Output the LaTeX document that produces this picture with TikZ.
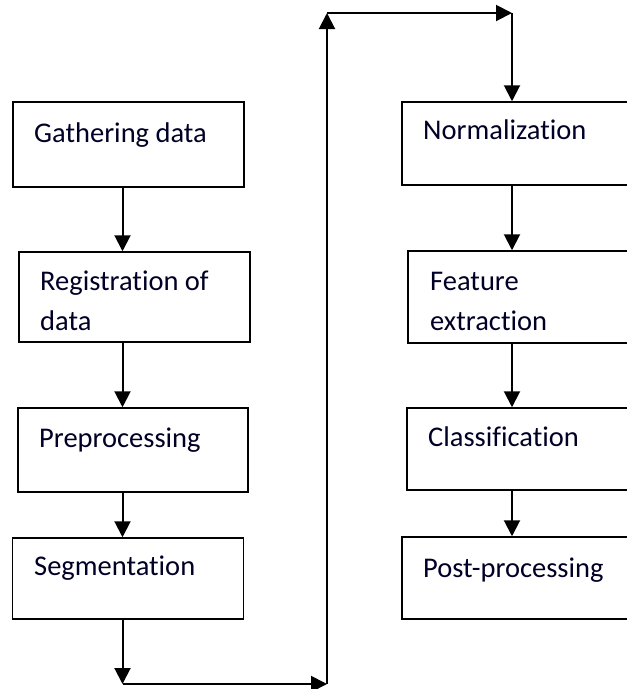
\documentclass[tikz,border=0pt]{standalone}
\usepackage{fontspec}
\setmainfont{Carlito}[Ligatures=NoCommon]
\usetikzlibrary{arrows.meta}
\begin{document}
\begin{tikzpicture}[x=1pt,y=-1pt,
  box/.style={draw=black, line width=1.5pt, rectangle, inner sep=0pt},
  txt/.style={anchor=base west, inner sep=0pt, font=\fontsize{28.5}{40}\selectfont, text=black!85!blue},
  arr/.style={line width=2pt, -{Triangle[length=16pt,width=16pt]}}]
\clip (0,0) rectangle (627,689);
\fill[white] (0,0) rectangle (627,689);
% left column boxes
\node[box, minimum width=231pt, minimum height=85pt] (g) at (128.5,144.5) {};
\node[box, minimum width=231pt, minimum height=90pt] (r) at (134.5,297) {};
\node[box, minimum width=230pt, minimum height=84pt] (p) at (133,450) {};
\node[box, minimum width=231pt, minimum height=81pt] (s) at (128,578.5) {};
% right column boxes
\node[box, minimum width=236pt, minimum height=83pt] (n) at (520,143.5) {};
\node[box, minimum width=230pt, minimum height=92pt] (f) at (523,297) {};
\node[box, minimum width=231pt, minimum height=82pt] (c) at (522.5,449) {};
\node[box, minimum width=236pt, minimum height=82pt] (pp) at (520,578) {};
% texts
\node[txt] (gt) at (34,142) {Gathering data};
\node[txt] (rt1) at (40,290) {Registration of};
\node[txt] (rt2) at (40,330) {data};
\node[txt] (pt) at (39,447) {Preprocessing};
\node[txt] (st) at (34,575) {Segmentation};
\node[txt] (nt) at (423,139) {Normalization};
\node[txt] (ft1) at (430,290) {Feature};
\node[txt] (ft2) at (430,330) {extraction};
\node[txt] (ct) at (428,446) {Classification};
\node[txt] (ppt) at (423,577) {Post-processing};
% column coordinates
\coordinate (lc) at (122.5,0);
\coordinate (rc) at (512,0);
\coordinate (c1) at (122.5,684);
\coordinate (c2) at (327,684);
\coordinate (c3) at (327,13);
\coordinate (c4) at (512,13);
% connectors
\draw[arr] (g.south -| lc) -- (r.north -| lc);
\draw[arr] (r.south -| lc) -- (p.north -| lc);
\draw[arr] (p.south -| lc) -- (s.north -| lc);
\draw[arr] (s.south -| lc) -- (c1);
\draw[arr] (c1) -- (c2);
\draw[arr] (c2) -- (c3);
\draw[arr] (c3) -- (c4);
\draw[arr] (c4) -- (n.north -| rc);
\draw[arr] (n.south -| rc) -- (f.north -| rc);
\draw[arr] (f.south -| rc) -- (c.north -| rc);
\draw[arr] (c.south -| rc) -- (pp.north -| rc);
\end{tikzpicture}
\end{document}
